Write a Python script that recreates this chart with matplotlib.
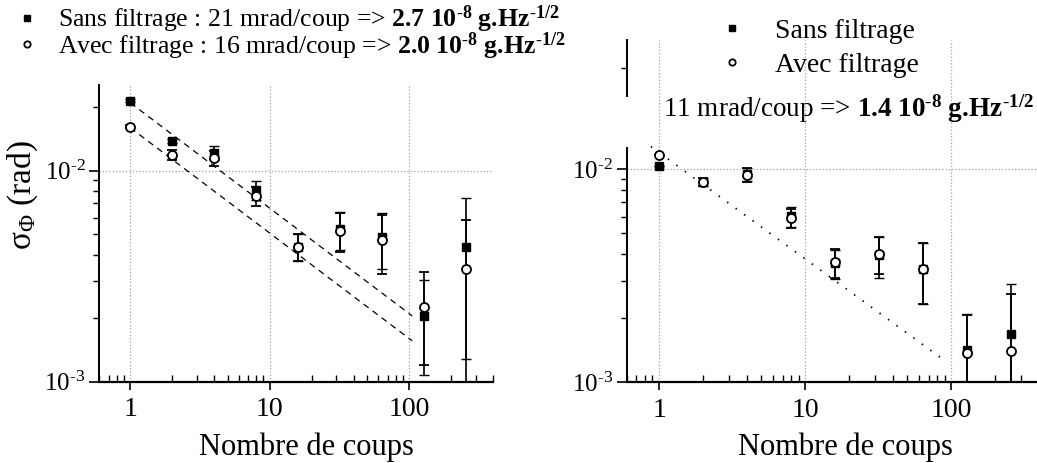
import numpy as np
import matplotlib
matplotlib.use("Agg")
from matplotlib import pyplot as plt
from matplotlib.ticker import FixedLocator, NullFormatter

plt.rcParams['font.family'] = ['Liberation Serif', 'DejaVu Serif']
plt.rcParams['mathtext.fontset'] = 'custom'
plt.rcParams['mathtext.rm'] = 'Liberation Serif'
plt.rcParams['mathtext.it'] = 'Liberation Serif:italic'
plt.rcParams['mathtext.bf'] = 'Liberation Serif:bold'

# number of shots
coups = [1, 2, 4, 8, 16, 32, 64, 128, 256]

# left panel
sans_l = [0.0215, 0.0138, 0.0122, 0.0081, 0.00436, 0.0053, 0.00487, 0.00205, 0.00434]
sans_l_err = [0.0003, 0.0003, 0.0009, 0.00087, 0.00064, 0.0011, 0.00145, 0.00097, 0.00306]
avec_l = [0.0162, 0.0119, 0.01145, 0.00762, 0.00436, 0.0052, 0.0047, 0.00226, 0.00342]
avec_l_err = [0.0003, 0.0006, 0.0009, 0.0008, 0.00064, 0.0011, 0.00145, 0.00106, 0.00242]

# right panel
sans_r = [0.0104, 0.00872, 0.0095, 0.00603, 0.00362, 0.00396, 0.00342, 0.00142, 0.00169]
sans_r_err = [0.0, 0.0004, 0.0007, 0.00065, 0.00056, 0.00087, 0.0011, 0.00068, 0.0012]
avec_r = [0.01163, 0.00872, 0.00944, 0.00588, 0.00366, 0.00402, 0.00342, 0.00138, 0.0014]
avec_r_err = [0.0, 0.0004, 0.0007, 0.0006, 0.00056, 0.0008, 0.0011, 0.0007, 0.0012]

# fits sigma = a / sqrt(n)
amp_sans = 0.021
amp_avec = 0.016
amp_r = 0.012

sens = r"\ g.\!Hz^{\text{-}1/2}}$"
label_sans_l = r"Sans filtrage : 21 mrad/coup => $\mathbf{2.7\ 10^{\text{-}8}" + sens
label_avec_l = r"Avec filtrage : 16 mrad/coup => $\mathbf{2.0\ 10^{\text{-}8}" + sens
label_fit_r = r"11 mrad/coup => $\mathbf{1.4\ 10^{\text{-}8}" + sens

fig = plt.figure(figsize=(10.37, 4.63), dpi=100)
ax1 = fig.add_axes([0.0958, 0.1756, 0.3799, 0.6408])
ax2 = fig.add_axes([0.6043, 0.1743, 0.3980, 0.7393])

minor_x = [k * 10.0 ** e for e in range(-1, 3) for k in range(2, 10)]


def style_axis(ax, ytop, yminor, xlab_x):
    ax.set_xscale('log')
    ax.set_yscale('log')
    ax.set_xlim(0.6, 400)
    ax.set_ylim(1e-3, ytop)
    for s in ['top', 'right']:
        ax.spines[s].set_visible(False)
    ax.spines['left'].set_linewidth(1.4)
    ax.spines['bottom'].set_linewidth(1.6)
    ax.xaxis.set_major_locator(FixedLocator([1, 10, 100]))
    ax.set_xticklabels(['1', '10', '100'])
    ax.xaxis.set_minor_locator(FixedLocator(minor_x))
    ax.xaxis.set_minor_formatter(NullFormatter())
    ax.yaxis.set_major_locator(FixedLocator([1e-3, 1e-2]))
    ax.set_yticklabels([r'$10^{\text{-}3}$', r'$10^{\text{-}2}$'])
    ax.yaxis.set_minor_locator(FixedLocator(yminor))
    ax.yaxis.set_minor_formatter(NullFormatter())
    ax.tick_params(axis='x', which='major', direction='out', length=6, width=1.2,
                   labelsize=20, pad=5)
    ax.tick_params(axis='x', which='minor', direction='in', length=5, width=1.0)
    ax.tick_params(axis='y', which='major', direction='out', length=7, width=1.2,
                   labelsize=18, pad=3)
    ax.tick_params(axis='y', which='minor', direction='out', length=4.5, width=1.0)
    ax.grid(True, which='major', linestyle=':', color='#a0a0a0', linewidth=0.9)
    ax.set_xlabel('Nombre de coups', fontsize=22)
    ax.xaxis.set_label_coords(xlab_x, -0.17 * 296.7 / ax.bbox.height)


def draw_points(ax, sans, sans_err, avec, avec_err):
    eb1 = ax.errorbar(coups, sans, yerr=sans_err, fmt='s', color='black', ms=6.3,
                      ecolor='black', elinewidth=1.2, capsize=3.5, capthick=1.0, zorder=3)
    eb2 = ax.errorbar(coups, avec, yerr=avec_err, fmt='o', color='black', mfc='white',
                      mec='black', mew=1.3, ms=6.5, ecolor='black', elinewidth=1.2,
                      capsize=3.5, capthick=1.0, zorder=4)
    return eb1, eb2


# ---- left panel
style_axis(ax1, 0.0255, [k * 1e-3 for k in range(2, 10)] + [0.02], 0.525)
eb1, eb2 = draw_points(ax1, sans_l, sans_l_err, avec_l, avec_l_err)
n_fit = np.array([1.0, 105.0])
ax1.plot(n_fit, amp_sans / np.sqrt(n_fit), color='black', lw=0.9, ls=(0, (5, 4)), zorder=2)
ax1.plot(n_fit, amp_avec / np.sqrt(n_fit), color='black', lw=0.9, ls=(0, (5, 4)), zorder=2)
ax1.set_ylabel(r'σ$_{\mathrm{Φ}}$ (rad)', fontsize=24)
ax1.yaxis.set_label_coords(-0.15, 0.63)
fig.legend([eb1[0], eb2[0]], [label_sans_l, label_avec_l], loc='upper left',
           bbox_to_anchor=(0.015, 0.992), frameon=False, fontsize=18.5, markerscale=0.7,
           handlelength=0.9, handletextpad=0.75, borderpad=0.0, labelspacing=-0.2,
           borderaxespad=0)

# ---- right panel
ytop_r = 0.0405
gap = (0.0126, 0.0222)
style_axis(ax2, ytop_r, [k * 1e-3 for k in range(2, 10)] + [0.03], 0.53)
eb3, eb4 = draw_points(ax2, sans_r, sans_r_err, avec_r, avec_r_err)
n_fit_r = np.array([0.88, 90.0])
ax2.plot(n_fit_r, amp_r / np.sqrt(n_fit_r), color='black', lw=1.3, ls=(0, (0.8, 5)),
         zorder=2)
# broken left axis: gap where the annotation sits
ax2.spines['left'].set_bounds(1e-3, gap[0])
frac = np.log10(gap[1] / 1e-3) / np.log10(ytop_r / 1e-3)
ax2.axvline(0.6, ymin=frac, ymax=1.0, color='black', lw=1.4, clip_on=False)
ax2.text(0.088, 0.775, label_fit_r, transform=ax2.transAxes, fontsize=19.5,
         va='baseline', ha='left')
fig.legend([eb3[0], eb4[0]], ['Sans filtrage', 'Avec filtrage'], loc='upper left',
           bbox_to_anchor=(0.694, 0.96), frameon=False, fontsize=20, markerscale=0.7,
           handlelength=0.9, handletextpad=1.1, borderpad=0.0, labelspacing=0.3,
           borderaxespad=0)

fig.savefig('out.png', dpi=100)
